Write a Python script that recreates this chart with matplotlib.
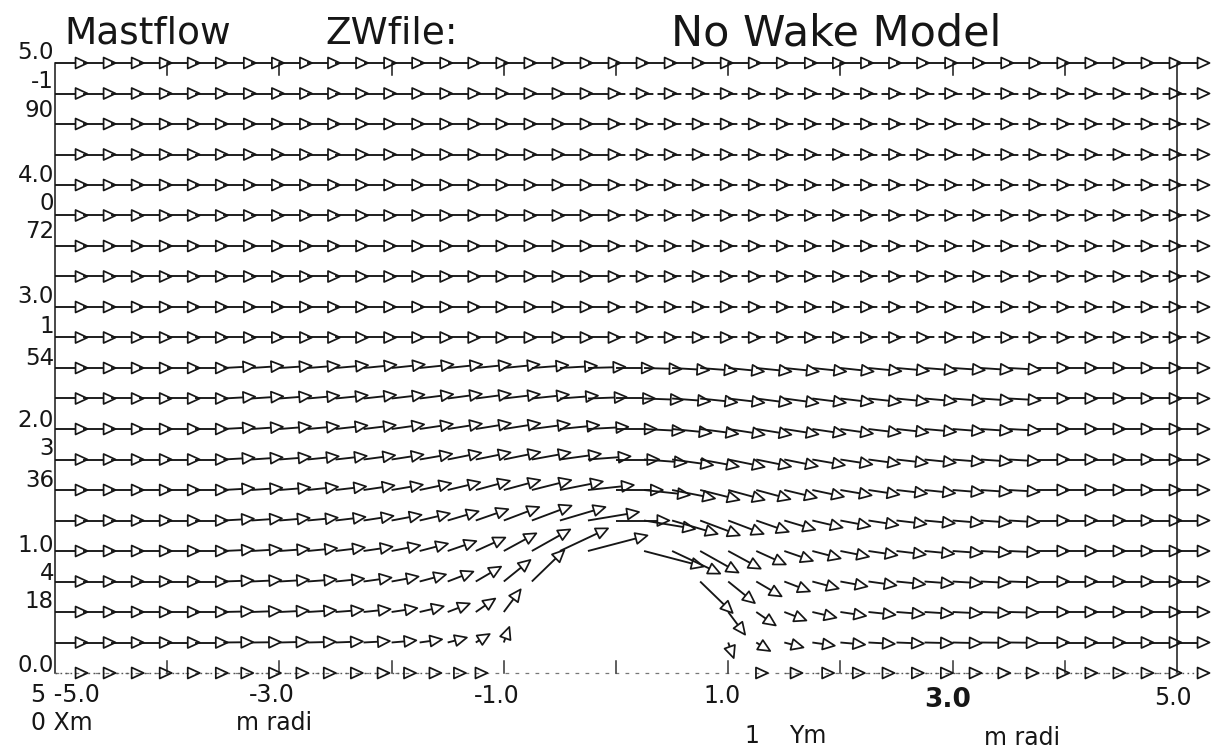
import numpy as np
import matplotlib
matplotlib.use("Agg")
import matplotlib.pyplot as plt
from matplotlib.collections import LineCollection, PolyCollection

# ---------------- data ----------------
TITLE_LEFT = "Mastflow"
TITLE_MID = "ZWfile:"
TITLE_RIGHT = "No Wake Model"

X_MIN, X_MAX, X_STEP = -5.0, 5.0, 0.25
Y_MIN, Y_MAX, Y_STEP = 0.0, 5.0, 0.25
FREE_U, FREE_V = 1.0, 0.0          # undisturbed flow far from the mast

# disturbed region around the mast
NEAR_X = [-3.5, -3.25, -3.0, -2.75,
          -2.5, -2.25, -2.0, -1.75, -1.5, -1.25, -1.0, -0.75, -0.5, -0.25, 0.0,
          0.25, 0.5, 0.75, 1.0, 1.25, 1.5, 1.75, 2.0, 2.25, 2.5,
          2.75, 3.0, 3.25, 3.5]
NEAR_Y = [0.0, 0.25, 0.5, 0.75, 1.0, 1.25, 1.5, 1.75, 2.0, 2.25, 2.5]
N = None
U_NEAR = [
    [0.92, 0.91, 0.89, 0.87, 0.84, 0.80, 0.75, 0.67, 0.56, 0.36, N, N, N, N, N, N, N, N, N, 0.36, 0.56, 0.67, 0.75, 0.80, 0.84, 0.87, 0.89, 0.91, 0.92],
    [0.92, 0.91, 0.89, 0.87, 0.84, 0.81, 0.76, 0.69, 0.59, 0.43, 0.17, N, N, N, N, N, N, N, 0.17, 0.43, 0.59, 0.69, 0.76, 0.81, 0.84, 0.87, 0.89, 0.91, 0.92],
    [0.92, 0.91, 0.90, 0.88, 0.86, 0.83, 0.79, 0.74, 0.68, 0.60, 0.52, N, N, N, N, N, N, N, 0.52, 0.60, 0.68, 0.74, 0.79, 0.83, 0.86, 0.88, 0.90, 0.91, 0.92],
    [0.93, 0.92, 0.91, 0.89, 0.88, 0.86, 0.83, 0.81, 0.79, 0.78, 0.82, 1.00, N, N, N, N, N, 1.00, 0.82, 0.78, 0.79, 0.81, 0.83, 0.86, 0.88, 0.89, 0.91, 0.92, 0.93],
    [0.94, 0.93, 0.92, 0.91, 0.90, 0.89, 0.88, 0.87, 0.88, 0.91, 1.00, 1.18, 1.48, 1.83, N, 1.83, 1.48, 1.18, 1.00, 0.91, 0.88, 0.87, 0.88, 0.89, 0.90, 0.91, 0.92, 0.93, 0.94],
    [0.94, 0.94, 0.93, 0.93, 0.92, 0.92, 0.92, 0.93, 0.95, 1.00, 1.09, 1.22, 1.40, 1.57, 1.64, 1.57, 1.40, 1.22, 1.09, 1.00, 0.95, 0.93, 0.92, 0.92, 0.92, 0.93, 0.93, 0.94, 0.94],
    [0.95, 0.95, 0.95, 0.94, 0.94, 0.95, 0.96, 0.97, 1.00, 1.05, 1.12, 1.21, 1.32, 1.41, 1.44, 1.41, 1.32, 1.21, 1.12, 1.05, 1.00, 0.97, 0.96, 0.95, 0.94, 0.94, 0.95, 0.95, 0.95],
    [0.96, 0.96, 0.96, 0.96, 0.96, 0.97, 0.98, 1.00, 1.03, 1.07, 1.12, 1.19, 1.26, 1.31, 1.33, 1.31, 1.26, 1.19, 1.12, 1.07, 1.03, 1.00, 0.98, 0.97, 0.96, 0.96, 0.96, 0.96, 0.96],
    [0.97, 0.97, 0.97, 0.97, 0.98, 0.99, 1.00, 1.02, 1.05, 1.08, 1.12, 1.17, 1.21, 1.24, 1.25, 1.24, 1.21, 1.17, 1.12, 1.08, 1.05, 1.02, 1.00, 0.99, 0.98, 0.97, 0.97, 0.97, 0.97],
    [0.98, 0.98, 0.98, 0.98, 0.99, 1.00, 1.01, 1.03, 1.05, 1.08, 1.11, 1.14, 1.17, 1.19, 1.20, 1.19, 1.17, 1.14, 1.11, 1.08, 1.05, 1.03, 1.01, 1.00, 0.99, 0.98, 0.98, 0.98, 0.98],
    [0.98, 0.98, 0.99, 0.99, 1.00, 1.01, 1.02, 1.04, 1.06, 1.08, 1.10, 1.12, 1.14, 1.15, 1.16, 1.15, 1.14, 1.12, 1.10, 1.08, 1.06, 1.04, 1.02, 1.01, 1.00, 0.99, 0.99, 0.98, 0.98],
]
V_NEAR = [
    [0.0, 0.0, 0.0, 0.0, 0.0, 0.0, 0.0, 0.0, 0.0, 0.0, N, N, N, N, N, N, N, N, N, 0.0, 0.0, 0.0, 0.0, 0.0, 0.0, 0.0, 0.0, 0.0, 0.0],
    [0.01, 0.01, 0.02, 0.02, 0.03, 0.04, 0.06, 0.09, 0.14, 0.24, 0.44, N, N, N, N, N, N, N, -0.44, -0.24, -0.14, -0.09, -0.06, -0.04, -0.03, -0.02, -0.02, -0.01, -0.01],
    [0.02, 0.03, 0.04, 0.05, 0.06, 0.08, 0.11, 0.16, 0.24, 0.38, 0.64, N, N, N, N, N, N, N, -0.64, -0.38, -0.24, -0.16, -0.11, -0.08, -0.06, -0.05, -0.04, -0.03, -0.02],
    [0.03, 0.04, 0.05, 0.06, 0.08, 0.11, 0.14, 0.20, 0.28, 0.42, 0.61, 0.89, N, N, N, N, N, -0.89, -0.61, -0.42, -0.28, -0.20, -0.14, -0.11, -0.08, -0.06, -0.05, -0.04, -0.03],
    [0.04, 0.05, 0.06, 0.08, 0.10, 0.12, 0.16, 0.21, 0.28, 0.38, 0.50, 0.61, 0.64, 0.44, N, -0.44, -0.64, -0.61, -0.50, -0.38, -0.28, -0.21, -0.16, -0.12, -0.10, -0.08, -0.06, -0.05, -0.04],
    [0.05, 0.06, 0.07, 0.08, 0.10, 0.13, 0.16, 0.20, 0.26, 0.32, 0.38, 0.42, 0.38, 0.24, 0.00, -0.24, -0.38, -0.42, -0.38, -0.32, -0.26, -0.20, -0.16, -0.13, -0.10, -0.08, -0.07, -0.06, -0.05],
    [0.05, 0.06, 0.07, 0.09, 0.10, 0.13, 0.15, 0.19, 0.22, 0.26, 0.28, 0.28, 0.24, 0.14, 0.00, -0.14, -0.24, -0.28, -0.28, -0.26, -0.22, -0.19, -0.15, -0.13, -0.10, -0.09, -0.07, -0.06, -0.05],
    [0.05, 0.06, 0.07, 0.09, 0.10, 0.12, 0.14, 0.16, 0.19, 0.20, 0.21, 0.20, 0.16, 0.09, 0.00, -0.09, -0.16, -0.20, -0.21, -0.20, -0.19, -0.16, -0.14, -0.12, -0.10, -0.09, -0.07, -0.06, -0.05],
    [0.05, 0.06, 0.07, 0.08, 0.10, 0.11, 0.13, 0.14, 0.15, 0.16, 0.16, 0.14, 0.11, 0.06, 0.00, -0.06, -0.11, -0.14, -0.16, -0.16, -0.15, -0.14, -0.13, -0.11, -0.10, -0.08, -0.07, -0.06, -0.05],
    [0.05, 0.06, 0.07, 0.08, 0.09, 0.10, 0.11, 0.12, 0.13, 0.13, 0.12, 0.11, 0.08, 0.04, 0.00, -0.04, -0.08, -0.11, -0.12, -0.13, -0.13, -0.12, -0.11, -0.10, -0.09, -0.08, -0.07, -0.06, -0.05],
    [0.05, 0.06, 0.06, 0.07, 0.08, 0.09, 0.10, 0.10, 0.10, 0.10, 0.10, 0.08, 0.06, 0.03, 0.00, -0.03, -0.06, -0.08, -0.10, -0.10, -0.10, -0.10, -0.10, -0.09, -0.08, -0.07, -0.06, -0.06, -0.05],
]

LEFT_LABELS = ["5.0", "-1", "90", "4.0", "0", "72", "3.0", "1", "54",
               "2.0", "3", "36", "1.0", "4", "18", "0.0"]
X_TICK_LABELS = ["-5.0", "-3.0", "-1.0", "1.0", "3.0", "5.0"]
X_TICKS = [-4, -3, -2, -1, 0, 1, 2, 3, 4]

# ---------------- layout (pixels of the 1218x748 picture) ----------------
W, H = 1218, 748
LEFT_LABEL_BASE = [59, 88, 117, 182, 210, 238, 303, 333, 365, 427, 455, 487, 552, 580, 608, 672]
INK = "#161616"

fig = plt.figure(figsize=(W / 100, H / 100), dpi=100)
fig.patch.set_facecolor("white")
ax = fig.add_axes([55 / W, 75 / H, 1122 / W, 610 / H])
ax.set_xlim(X_MIN, X_MAX)
ax.set_ylim(Y_MIN, Y_MAX)
ax.axis("off")

def fx(px):
    return px / W

def fy(py):
    return 1 - py / H

# ---------------- vectors ----------------
S = 0.29            # data length of a unit-velocity arrow
HL, HW = 12.0, 5.5  # head length / half width in pixels

xs = np.linspace(X_MIN, X_MAX, int(round((X_MAX - X_MIN) / X_STEP)) + 1)
ys = np.linspace(Y_MIN, Y_MAX, int(round((Y_MAX - Y_MIN) / Y_STEP)) + 1)

to_px = ax.transData.transform
to_data = ax.transData.inverted().transform

shafts = {"solid": [], "dash": [], "dot": []}
heads = {"solid": [], "dash": [], "dot": []}

def lookup(x, y):
    xi = [i for i, v in enumerate(NEAR_X) if abs(v - x) < 1e-6]
    yi = [i for i, v in enumerate(NEAR_Y) if abs(v - y) < 1e-6]
    if xi and yi:
        u = U_NEAR[yi[0]][xi[0]]
        v = V_NEAR[yi[0]][xi[0]]
        if u is None:
            return None
        return u, v
    return FREE_U, FREE_V

def style_of(x, y):
    if abs(y) < 1e-6:
        return "dot"
    if x >= 0 and 2.7 <= y <= 4.8:
        return "dash"
    return "solid"

for y in ys:
    for x in xs:
        val = lookup(x, y)
        if val is None:
            continue
        u, v = val
        p0 = to_px((x, y))
        p1 = to_px((x + S * u, y + S * v))
        d = p1 - p0
        L = np.hypot(*d)
        if L < 1e-6:
            continue
        e = d / L
        n = np.array([-e[1], e[0]])
        base = p1 - e * HL
        tri = np.array([p1, base + n * HW, base - n * HW])
        st = style_of(x, y)
        heads[st].append(to_data(tri))
        if L > HL:
            shafts[st].append(to_data(np.array([p0, base])))

line_styles = {"solid": "-", "dash": (0, (5, 2.2)), "dot": (0, (1.2, 2.4))}
line_colors = {"solid": INK, "dash": INK, "dot": "#555555"}
line_widths = {"solid": 1.35, "dash": 1.35, "dot": 1.0}
for st in shafts:
    if shafts[st]:
        lc = LineCollection(shafts[st], colors=line_colors[st], linewidths=line_widths[st],
                            linestyles=line_styles[st], clip_on=False, zorder=3)
        ax.add_collection(lc)
    if heads[st]:
        pc = PolyCollection(heads[st], facecolors="none", edgecolors=INK,
                            linewidths=1.25, closed=True, clip_on=False, zorder=4)
        ax.add_collection(pc)

# ---------------- frame ----------------
ax.plot([X_MIN, X_MIN], [Y_MIN, Y_MAX], color=INK, lw=1.1, clip_on=False)
ax.plot([X_MAX, X_MAX], [Y_MIN, Y_MAX], color=INK, lw=1.1, clip_on=False)
ax.plot([X_MIN, X_MAX], [Y_MIN, Y_MIN], color="#777777", lw=0.9,
        linestyle=(0, (3, 5)), clip_on=False)
tick_len = 12 / 122
for t in X_TICKS:
    ax.plot([t, t], [Y_MAX, Y_MAX - tick_len], color=INK, lw=1.1, clip_on=False)
    ax.plot([t, t], [Y_MIN, Y_MIN + tick_len], color="#333333", lw=1.1, clip_on=False)

# ---------------- texts ----------------
FONT = "DejaVu Sans"
fig.text(fx(64), fy(43), TITLE_LEFT, fontsize=27, family=FONT, color=INK, va="baseline", ha="left")
fig.text(fx(325), fy(43), TITLE_MID, fontsize=27, family=FONT, color=INK, va="baseline", ha="left")
fig.text(fx(671), fy(45), TITLE_RIGHT, fontsize=31, family=FONT, color=INK, va="baseline", ha="left")

for lab, b in zip(LEFT_LABELS, LEFT_LABEL_BASE):
    fig.text(fx(54), fy(b), lab, fontsize=16.5, family=FONT, color=INK, va="baseline", ha="right")

fig.text(fx(31), fy(702), "5 " + X_TICK_LABELS[0], fontsize=17, family=FONT, color=INK, va="baseline", ha="left")
fig.text(fx(31), fy(730), "0 Xm", fontsize=17, family=FONT, color=INK, va="baseline", ha="left")
fig.text(fx(272), fy(702), X_TICK_LABELS[1], fontsize=17, family=FONT, color=INK, va="baseline", ha="center")
fig.text(fx(236), fy(730), "m radi", fontsize=17, family=FONT, color=INK, va="baseline", ha="left")
fig.text(fx(497), fy(703), X_TICK_LABELS[2], fontsize=17, family=FONT, color=INK, va="baseline", ha="center")
fig.text(fx(722), fy(703), X_TICK_LABELS[3], fontsize=17, family=FONT, color=INK, va="baseline", ha="center")
fig.text(fx(752), fy(743), "1", fontsize=17, family=FONT, color=INK, va="baseline", ha="center")
fig.text(fx(789), fy(743), "Ym", fontsize=17, family=FONT, color=INK, va="baseline", ha="left")
fig.text(fx(948), fy(707), X_TICK_LABELS[4], fontsize=19, family=FONT, weight="bold", color=INK, va="baseline", ha="center")
fig.text(fx(1173), fy(705), X_TICK_LABELS[5], fontsize=17, family=FONT, color=INK, va="baseline", ha="center")
fig.text(fx(984), fy(745), "m radi", fontsize=17, family=FONT, color=INK, va="baseline", ha="left")

fig.savefig("out.png", dpi=100, facecolor="white")
